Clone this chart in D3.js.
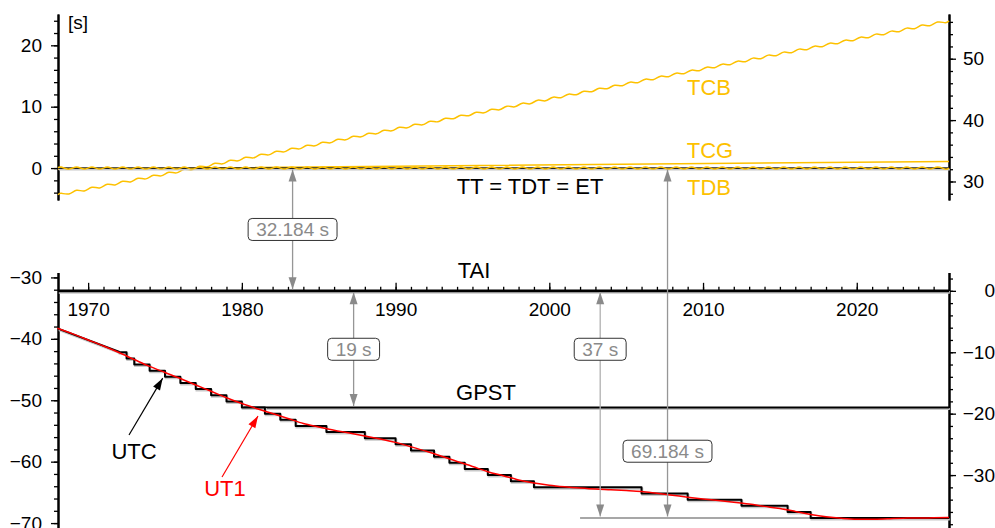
<!DOCTYPE html>
<html lang="en">
<head>
  <meta charset="UTF-8">
  <title>Time scales</title>
  <script src="https://d3js.org/d3.v7.min.js"></script>
  <style>
    body{ margin:0; background:#fff; }
    svg{ display:block; font-family:"Liberation Sans", Arial, Helvetica, sans-serif; }
    .axis text{ font-size:19px; fill:#000; }
    .axis .domain{ stroke:#000; stroke-width:2; }
    .axis .tick line{ stroke:#000; stroke-width:1.3; }
  </style>
</head>
<body>
<div id="chart"></div>
<script>
// ---------------- data (seconds, relative to TT) ----------------
// leap seconds: year at which each new TAI-UTC value starts
var leapYears = [1972.0, 1972.5, 1973.0, 1974.0, 1975.0, 1976.0, 1977.0, 1978.0, 1979.0, 1980.0,
  1981.5, 1982.5, 1983.5, 1985.5, 1988.0, 1990.0, 1991.0, 1992.5, 1993.5, 1994.5,
  1996.0, 1997.5, 1999.0, 2006.0, 2009.0, 2012.5, 2015.5, 2017.0];
var taiMinusUtc = [10, 11, 12, 13, 14, 15, 16, 17, 18, 19,
  20, 21, 22, 23, 24, 25, 26, 27, 28, 29,
  30, 31, 32, 33, 34, 35, 36, 37];
// before 1972 UTC drifted against TAI
var driftYears = [1968.04, 1972.0];
var driftTaiMinusUtc = [6.15, 9.89];

var ttMinusTai = 32.184;
var gpsMinusTai = -19;
var gpsStartYear = 1980.02;

// TT - UT1 (delta T)
var deltaTYears = [1968, 1969, 1970, 1971, 1972, 1973, 1974, 1975, 1976, 1977,
  1978, 1979, 1980, 1981, 1982, 1983, 1984, 1985, 1986, 1987,
  1988, 1989, 1990, 1991, 1992, 1993, 1994, 1995, 1996, 1997,
  1998, 1999, 2000, 2001, 2002, 2003, 2004, 2005, 2006, 2007,
  2008, 2009, 2010, 2011, 2012, 2013, 2014, 2015, 2016, 2017,
  2018, 2019, 2020, 2021, 2022, 2023, 2024, 2025, 2026];
var deltaT = [38.29, 39.20, 40.18, 41.17, 42.23, 43.37, 44.49, 45.48, 46.46, 47.52,
  48.53, 49.59, 50.54, 51.38, 52.17, 52.96, 53.79, 54.34, 54.87, 55.32,
  55.82, 56.30, 56.86, 57.57, 58.31, 59.12, 59.98, 60.78, 61.63, 62.29,
  62.97, 63.47, 63.83, 64.09, 64.30, 64.47, 64.57, 64.69, 64.85, 65.15,
  65.46, 65.78, 66.07, 66.32, 66.60, 66.91, 67.28, 67.64, 68.10, 68.59,
  68.97, 69.22, 69.36, 69.36, 69.29, 69.20, 69.18, 69.14, 69.10];

// TCG - TT
var tcgYears = [1968.04, 1977.0, 2026.0];
var tcgValues = [-0.20, 0.0, 1.08];

// TCB - TT and TDB - TT, read at the crests and troughs of the yearly wiggle
var wiggleYears = [1968.04,
  1968.25, 1968.75, 1969.25, 1969.75, 1970.25, 1970.75, 1971.25, 1971.75, 1972.25, 1972.75,
  1973.25, 1973.75, 1974.25, 1974.75, 1975.25, 1975.75, 1976.25, 1976.75, 1977.25, 1977.75,
  1978.25, 1978.75, 1979.25, 1979.75, 1980.25, 1980.75, 1981.25, 1981.75, 1982.25, 1982.75,
  1983.25, 1983.75, 1984.25, 1984.75, 1985.25, 1985.75, 1986.25, 1986.75, 1987.25, 1987.75,
  1988.25, 1988.75, 1989.25, 1989.75, 1990.25, 1990.75, 1991.25, 1991.75, 1992.25, 1992.75,
  1993.25, 1993.75, 1994.25, 1994.75, 1995.25, 1995.75, 1996.25, 1996.75, 1997.25, 1997.75,
  1998.25, 1998.75, 1999.25, 1999.75, 2000.25, 2000.75, 2001.25, 2001.75, 2002.25, 2002.75,
  2003.25, 2003.75, 2004.25, 2004.75, 2005.25, 2005.75, 2006.25, 2006.75, 2007.25, 2007.75,
  2008.25, 2008.75, 2009.25, 2009.75, 2010.25, 2010.75, 2011.25, 2011.75, 2012.25, 2012.75,
  2013.25, 2013.75, 2014.25, 2014.75, 2015.25, 2015.75, 2016.25, 2016.75, 2017.25, 2017.75,
  2018.25, 2018.75, 2019.25, 2019.75, 2020.25, 2020.75, 2021.25, 2021.75, 2022.25, 2022.75,
  2023.25, 2023.75, 2024.25, 2024.75, 2025.25, 2025.75,
  2026.0];
var tcbValues = [-4.34,
  -4.11, -4.21, -3.62, -3.72, -3.13, -3.23, -2.64, -2.74, -2.15, -2.25,
  -1.66, -1.76, -1.18, -1.27, -0.69, -0.78, -0.20, -0.29, 0.29, 0.20,
  0.78, 0.69, 1.27, 1.18, 1.76, 1.66, 2.25, 2.15, 2.74, 2.64,
  3.23, 3.13, 3.72, 3.62, 4.21, 4.11, 4.70, 4.60, 5.19, 5.09,
  5.67, 5.58, 6.16, 6.07, 6.65, 6.56, 7.14, 7.05, 7.63, 7.54,
  8.12, 8.03, 8.61, 8.52, 9.10, 9.00, 9.59, 9.49, 10.08, 9.98,
  10.57, 10.47, 11.06, 10.96, 11.55, 11.45, 12.04, 11.94, 12.52, 12.43,
  13.01, 12.92, 13.50, 13.41, 13.99, 13.90, 14.48, 14.39, 14.97, 14.88,
  15.46, 15.37, 15.95, 15.85, 16.44, 16.34, 16.93, 16.83, 17.42, 17.32,
  17.91, 17.81, 18.40, 18.30, 18.89, 18.79, 19.38, 19.28, 19.86, 19.77,
  20.35, 20.26, 20.84, 20.75, 21.33, 21.24, 21.82, 21.73, 22.31, 22.22,
  22.80, 22.71, 23.29, 23.19, 23.78, 23.68,
  23.98];
var tdbValues = [0.04,
  0.17, -0.17, 0.17, -0.17, 0.17, -0.17, 0.17, -0.17, 0.17, -0.17,
  0.17, -0.17, 0.17, -0.17, 0.17, -0.17, 0.17, -0.17, 0.17, -0.17,
  0.17, -0.17, 0.17, -0.17, 0.17, -0.17, 0.17, -0.17, 0.17, -0.17,
  0.17, -0.17, 0.17, -0.17, 0.17, -0.17, 0.17, -0.17, 0.17, -0.17,
  0.17, -0.17, 0.17, -0.17, 0.17, -0.17, 0.17, -0.17, 0.17, -0.17,
  0.17, -0.17, 0.17, -0.17, 0.17, -0.17, 0.17, -0.17, 0.17, -0.17,
  0.17, -0.17, 0.17, -0.17, 0.17, -0.17, 0.17, -0.17, 0.17, -0.17,
  0.17, -0.17, 0.17, -0.17, 0.17, -0.17, 0.17, -0.17, 0.17, -0.17,
  0.17, -0.17, 0.17, -0.17, 0.17, -0.17, 0.17, -0.17, 0.17, -0.17,
  0.17, -0.17, 0.17, -0.17, 0.17, -0.17, 0.17, -0.17, 0.17, -0.17,
  0.17, -0.17, 0.17, -0.17, 0.17, -0.17, 0.17, -0.17, 0.17, -0.17,
  0.17, -0.17, 0.17, -0.17, 0.17, -0.17,
  0.0];

// offset arrows
var arrowYears = [1983.3, 1987.27, 2003.31, 2007.69];
var arrowFrom = [0, -32.184, -32.184, 0];
var arrowTo = [-32.184, -51.184, -69.184, -69.184];
var arrowLabels = ["32.184 s", "19 s", "37 s", "69.184 s"];
var arrowLabelAt = [null, -41.7, -41.7, -58.3];   // null = half way

// axis ticks
var xMajor = [1970, 1980, 1990, 2000, 2010, 2020];
var topLeftMajor = [0, 10, 20];
var topRightMajor = [30, 40, 50];
var botLeftMajor = [-30, -40, -50, -60, -70];
var botRightMajor = [0, -10, -20, -30];

// ---------------- layout ----------------
var width = 995, height = 528;
var X0 = 58, X1 = 949;
var yellow = "#fdc100";

var svg = d3.select("#chart").append("svg")
  .attr("width", width)
  .attr("height", height);

var x = d3.scaleLinear().domain([1968.04, 2026.0]).range([X0, X1]);
var yTop = d3.scaleLinear().domain([-5.2, 25.1]).range([200, 14]);
var yBot = d3.scaleLinear().domain([-70.8, -29.2]).range([528, 272.5]);
// right hand axes show the offset from TAI
var yTopR = d3.scaleLinear().domain([-5.2 + ttMinusTai, 25.1 + ttMinusTai]).range([200, 14]);
var yBotR = d3.scaleLinear().domain([-70.8 + ttMinusTai, -29.2 + ttMinusTai]).range([528, 272.5]);

function yOf(v){ return v > -15 ? yTop(v) : yBot(v); }
var fmt = d3.format("d");

// ---------------- axes ----------------
function drawAxis(axis, tx, ty){
  return svg.append("g").attr("class", "axis")
    .attr("transform", "translate(" + tx + "," + ty + ")")
    .call(axis)
    .attr("font-size", null).attr("font-family", null);
}
// left
drawAxis(d3.axisLeft(yTop).tickValues(d3.range(-4, 25, 2)).tickSize(4).tickSizeOuter(0).tickFormat(""), X0, 0);
drawAxis(d3.axisLeft(yTop).tickValues(topLeftMajor).tickSize(7).tickPadding(9).tickSizeOuter(0).tickFormat(fmt), X0, 0);
drawAxis(d3.axisLeft(yBot).tickValues(d3.range(-70, -29, 2)).tickSize(4).tickSizeOuter(0).tickFormat(""), X0, 0);
drawAxis(d3.axisLeft(yBot).tickValues(botLeftMajor).tickSize(7).tickPadding(9).tickSizeOuter(0).tickFormat(fmt), X0, 0);
// right
drawAxis(d3.axisRight(yTopR).tickValues(d3.range(28, 57, 2)).tickSize(4).tickSizeOuter(0).tickFormat(""), X1, 0);
drawAxis(d3.axisRight(yTopR).tickValues(topRightMajor).tickSize(7).tickPadding(7).tickSizeOuter(0).tickFormat(fmt), X1, 0);
drawAxis(d3.axisRight(yBotR).tickValues(d3.range(-38, 3, 2)).tickSize(4).tickSizeOuter(0).tickFormat(""), X1, 0);
drawAxis(d3.axisRight(yBotR).tickValues(botRightMajor).tickSize(7).tickSizeOuter(0).tickFormat(fmt), X1, 0)
  .selectAll("text").attr("text-anchor", "end").attr("x", width - X1);

// time axis sits on the TAI line
var yTAI = yBot(-ttMinusTai);
drawAxis(d3.axisTop(x).tickValues(d3.range(1969, 2026, 1)).tickSize(4).tickSizeOuter(0).tickFormat(""), 0, yTAI)
  .select(".domain").remove();
drawAxis(d3.axisTop(x).tickValues(xMajor).tickSize(8).tickSizeOuter(0).tickFormat(""), 0, yTAI)
  .select(".domain").remove();
drawAxis(d3.axisBottom(x).tickValues(xMajor).tickSize(0).tickPadding(12).tickFormat(fmt), 0, yTAI)
  .select(".domain").remove();

// ---------------- series ----------------
var line = d3.line().x(function(d){ return x(d[0]); }).y(function(d){ return yOf(d[1]); });

function drawLine(pts, colour, w, curve, shadow){
  if (shadow) {
    svg.append("path").datum(pts)
      .attr("d", line.curve(curve)).attr("fill", "none")
      .attr("stroke", "#c8c8c8").attr("stroke-width", w)
      .attr("transform", "translate(0.8,1.5)");
  }
  return svg.append("path").datum(pts)
    .attr("d", line.curve(curve)).attr("fill", "none")
    .attr("stroke", colour).attr("stroke-width", w)
    .attr("stroke-linejoin", "round");
}

// TCB, TCG
drawLine(wiggleYears.map(function(t, i){ return [t, tcbValues[i]]; }), yellow, 1.5, d3.curveNatural);
drawLine(tcgYears.map(function(t, i){ return [t, tcgValues[i]]; }), yellow, 1.5, d3.curveLinear);
// TT
drawLine([[1968.04, 0], [2026.0, 0]], "#222", 1.6, d3.curveLinear, true);
// TDB
drawLine(wiggleYears.map(function(t, i){ return [t, tdbValues[i]]; }), yellow, 1.5, d3.curveNatural);

// TAI and GPST
drawLine([[1968.04, -ttMinusTai], [2026.0, -ttMinusTai]], "#000", 2.6, d3.curveLinear, true);
drawLine([[gpsStartYear, -ttMinusTai + gpsMinusTai], [2026.0, -ttMinusTai + gpsMinusTai]], "#000", 2.2, d3.curveLinear, true);

// reference level of today's UTC offset
drawLine([[2002.0, -ttMinusTai - 37], [2026.0, -ttMinusTai - 37]], "#8a8a8a", 1.5, d3.curveLinear);

// UTC staircase
var utcPts = driftYears.map(function(t, i){ return [t, -ttMinusTai - driftTaiMinusUtc[i]]; });
var prev = driftTaiMinusUtc[driftTaiMinusUtc.length - 1];
leapYears.forEach(function(t, i){
  utcPts.push([t, -ttMinusTai - prev]);
  utcPts.push([t, -ttMinusTai - taiMinusUtc[i]]);
  prev = taiMinusUtc[i];
});
utcPts.push([2026.0, -ttMinusTai - prev]);
drawLine(utcPts, "#000", 2, d3.curveLinear, true);

// UT1
drawLine(deltaTYears.map(function(t, i){ return [t, -deltaT[i]]; }), "#ff0000", 1.5, d3.curveMonotoneX);

// ---------------- offset arrows ----------------
function head(xt, yt, x0, y0, colour){
  var a = Math.atan2(yt - y0, xt - x0), L = 12, W = 4;
  var bx = xt - L * Math.cos(a), by = yt - L * Math.sin(a);
  var pts = [[xt, yt], [bx + W * Math.sin(a), by - W * Math.cos(a)], [bx - W * Math.sin(a), by + W * Math.cos(a)]];
  svg.append("polygon").attr("points", pts.map(function(p){ return p.join(","); }).join(" "))
    .attr("fill", colour);
}

arrowYears.forEach(function(t, i){
  var xa = x(t);
  var ya = yOf(arrowFrom[i]) + 1.5, yb = yOf(arrowTo[i]) - 1.5;
  svg.append("line").attr("x1", xa).attr("x2", xa).attr("y1", ya).attr("y2", yb)
    .attr("stroke", i === 2 ? "#b0b0b0" : "#969696").attr("stroke-width", 1.3);
  head(xa, ya, xa, yb, "#8a8a8a");
  head(xa, yb, xa, ya, "#8a8a8a");
  var yl = arrowLabelAt[i] === null ? (ya + yb) / 2 : yBot(arrowLabelAt[i]);
  var g = svg.append("g");
  var txt = g.append("text").attr("x", xa).attr("y", yl).attr("dy", "0.35em")
    .attr("text-anchor", "middle").attr("font-size", 19).attr("fill", "#8a8a8a")
    .text(arrowLabels[i]);
  var w = txt.node().getComputedTextLength() + 16;
  g.insert("rect", "text").attr("x", xa - w / 2).attr("y", yl - 11).attr("width", w).attr("height", 22)
    .attr("rx", 4).attr("fill", "#fff").attr("stroke", "#333").attr("stroke-width", 1);
});

// UTC / UT1 pointers
function pointer(t0, v0, t1, v1, colour){
  svg.append("line").attr("x1", x(t0)).attr("y1", yBot(v0)).attr("x2", x(t1)).attr("y2", yBot(v1))
    .attr("stroke", colour).attr("stroke-width", 1.2);
  head(x(t1), yBot(v1), x(t0), yBot(v0), colour);
}
pointer(1972.66, -55.66, 1974.85, -46.4, "#000");
pointer(1978.71, -62.5, 1981.05, -52.56, "#ff0000");

// ---------------- labels ----------------
function label(txt, px, py, colour, size){
  svg.append("text").attr("x", px).attr("y", py).attr("dy", "0.35em")
    .attr("text-anchor", "middle").attr("font-size", size || 22).attr("fill", colour || "#000")
    .text(txt);
}
label("[s]", 78, 22, "#000", 19);
label("TCB", 709, 87, yellow);
label("TCG", 710, 150, yellow);
label("TDB", 709, 187, yellow);
label("TT = TDT = ET", 530, 186.5);
label("TAI", 474, 270);
label("GPST", 486, 392);
label("UTC", 134, 451);
label("UT1", 225, 488, "#ff0000");
</script>
</body>
</html>
